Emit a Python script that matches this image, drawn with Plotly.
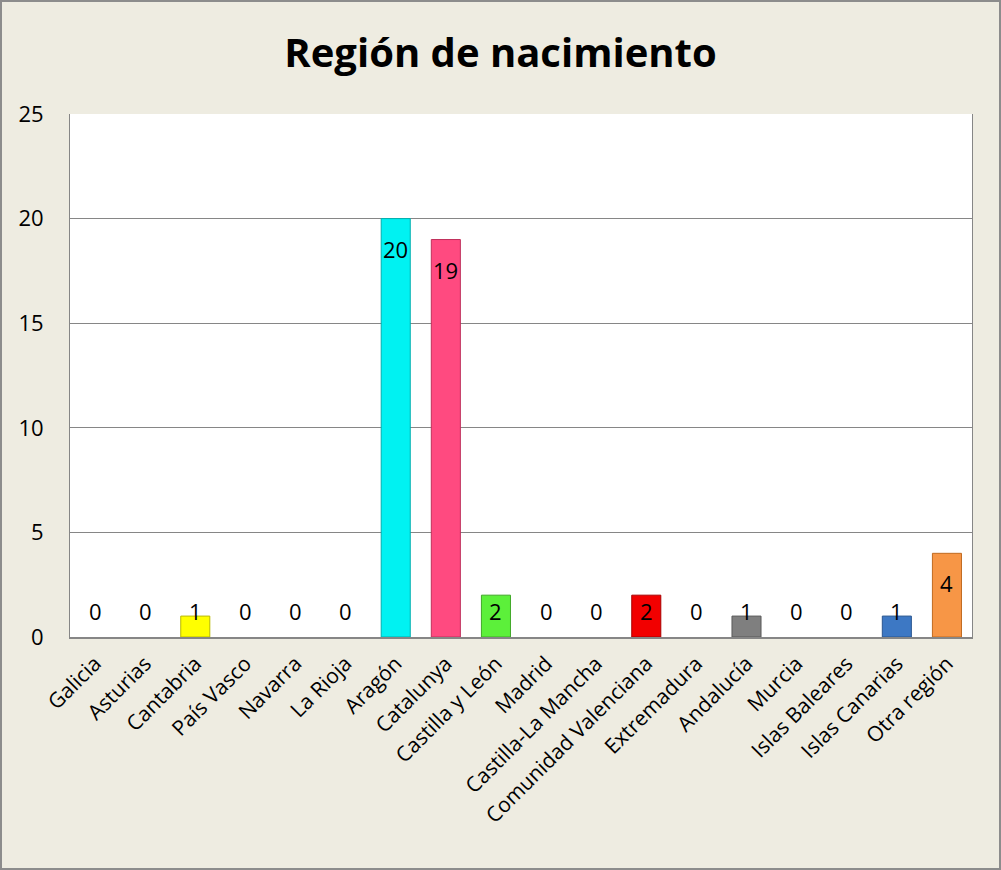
import plotly.graph_objects as go

categories = ["Galicia", "Asturias", "Cantabria", "País Vasco", "Navarra", "La Rioja",
              "Aragón", "Catalunya", "Castilla y León", "Madrid", "Castilla-La Mancha",
              "Comunidad Valenciana", "Extremadura", "Andalucía", "Murcia",
              "Islas Baleares", "Islas Canarias", "Otra región"]
values = [0, 0, 1, 0, 0, 0, 20, 19, 2, 0, 0, 2, 0, 1, 0, 0, 1, 4]
colors = ["#4F81BD", "#4F81BD", "#FFFF00", "#4F81BD", "#4F81BD", "#4F81BD",
          "#00F2F2", "#FF4A80", "#5CF03A", "#4F81BD", "#4F81BD",
          "#F20000", "#4F81BD", "#7F7F7F", "#4F81BD", "#4F81BD", "#3D78C4", "#F79646"]
line_colors = ["#3A5F8C", "#3A5F8C", "#B8B800", "#3A5F8C", "#3A5F8C", "#3A5F8C",
               "#00AFAF", "#C0305C", "#40A828", "#3A5F8C", "#3A5F8C",
               "#A80000", "#3A5F8C", "#595959", "#3A5F8C", "#3A5F8C", "#2A5690", "#C06A20"]

FONT = "Open Sans"
W, H = 1001, 870
ml, mr, mt, mb = 70, 29, 114, 233
pw, ph = W - ml - mr, H - mt - mb

line_widths = [1 if v > 0 else 0 for v in values]

fig = go.Figure()
fig.add_trace(go.Bar(
    x=categories, y=values,
    marker=dict(color=colors, line=dict(color=line_colors, width=line_widths)),
    width=0.58, hoverinfo="x+y",
))

units_per_px = 25 / ph
for c, v in zip(categories, values):
    ylab = max(v - 30 * units_per_px, 26 * units_per_px)
    fig.add_annotation(x=c, y=ylab, text=str(v), showarrow=False,
                       font=dict(family=FONT, size=22, color="black"),
                       yanchor="middle", xanchor="center")

fig.add_shape(type="rect", xref="paper", yref="paper",
              x0=(-ml + 1) / pw, x1=1 + (mr - 1) / pw,
              y0=-(mb - 1) / ph, y1=1 + (mt - 1) / ph,
              line=dict(color="#8C8C8C", width=2), layer="below")

fig.update_layout(
    width=W, height=H,
    margin=dict(l=ml, r=mr, t=mt, b=mb),
    paper_bgcolor="#EEECE1", plot_bgcolor="white",
    title=dict(text="<b>Región de nacimiento</b>", x=0.5, xanchor="center",
               y=1 - 53 / H, yanchor="middle",
               font=dict(family=FONT, size=40, color="black")),
    font=dict(family=FONT, color="black"),
    showlegend=False,
    bargap=0.42,
)
fig.update_yaxes(range=[0, 25], dtick=5, showgrid=True, gridcolor="#868686", gridwidth=1,
                 showline=True, linecolor="#868686", linewidth=1, mirror=True,
                 tickfont=dict(family=FONT, size=22, color="black"),
                 ticks="", ticklabelstandoff=21, zeroline=False)
fig.update_xaxes(showline=True, linecolor="#868686", linewidth=2, mirror=False,
                 tickangle=-45, tickfont=dict(family=FONT, size=21, color="black"),
                 ticks="", ticklabelstandoff=4)

fig.write_html("out.html", config={"displayModeBar": False},
               post_script="document.body.style.margin='0';")
